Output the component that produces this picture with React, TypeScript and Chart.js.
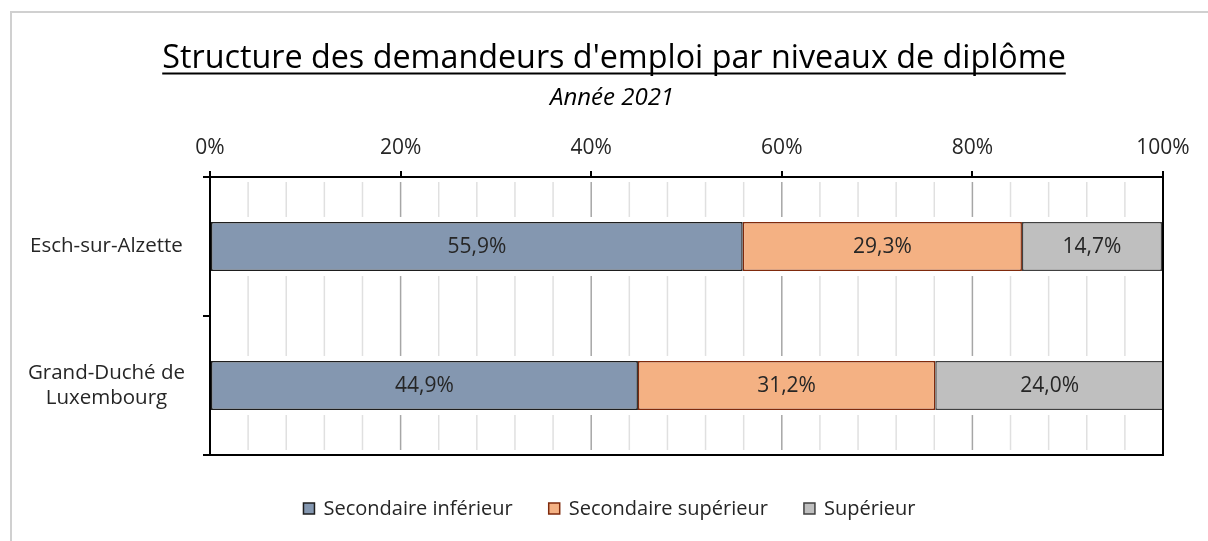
import React, { useEffect, useRef } from "react";
import { Chart, registerables } from "chart.js";

Chart.register(...registerables);

const TITLE = "Structure des demandeurs d'emploi par niveaux de diplôme";
const SUBTITLE = "Année 2021";
const categories: (string | string[])[] = ["Esch-sur-Alzette", ["Grand-Duché de", "Luxembourg"]];
const seriesNames = ["Secondaire inférieur", "Secondaire supérieur", "Supérieur"];
const secInferieur = [55.9, 44.9];
const secSuperieur = [29.3, 31.2];
const superieur = [14.7, 24.0];
const xTickValues = [0, 20, 40, 60, 80, 100];

const FONT = "'Open Sans'";
const fills = ["#8497b0", "#f4b183", "#bfbfbf"];
const borders = ["#1e1e1e", "#7f2a0c", "#404040"];

const fmt = (v: number) => v.toFixed(1).replace(".", ",") + "%";

const framePlugin = {
  id: "frame",
  beforeDraw(chart: any) {
    const { ctx, width, height } = chart;
    ctx.save();
    ctx.fillStyle = "#ffffff";
    ctx.fillRect(0, 0, width, height);
    ctx.strokeStyle = "#d0d0d0";
    ctx.lineWidth = 2;
    ctx.beginPath();
    ctx.moveTo(11, height);
    ctx.lineTo(11, 12);
    ctx.lineTo(width, 12);
    ctx.stroke();
    ctx.restore();
  },
};

const titlePlugin = {
  id: "titleU",
  afterDraw(chart: any) {
    const { ctx } = chart;
    ctx.save();
    ctx.fillStyle = "#000";
    ctx.font = `32.3px ${FONT}`;
    ctx.textAlign = "center";
    ctx.textBaseline = "alphabetic";
    const cx = 614;
    ctx.fillText(TITLE, cx, 68);
    const w = ctx.measureText(TITLE).width;
    ctx.strokeStyle = "#000";
    ctx.lineWidth = 1.8;
    ctx.beginPath();
    ctx.moveTo(cx - w / 2, 73.5);
    ctx.lineTo(cx + w / 2, 73.5);
    ctx.stroke();
    ctx.font = `italic 24px ${FONT}`;
    ctx.fillText(SUBTITLE, 612, 105);
    ctx.restore();
  },
};

// grid segments drawn between the bars, leaving small gaps like the original
const gridPlugin = {
  id: "gridSegments",
  beforeDatasetsDraw(chart: any) {
    const { ctx, chartArea, scales } = chart;
    const xs = scales.x;
    const meta = chart.getDatasetMeta(0);
    const gap = 5;
    const bounds: number[] = [chartArea.top];
    meta.data.forEach((bar: any) => {
      const h = bar.height;
      bounds.push(bar.y - h / 2, bar.y + h / 2);
    });
    bounds.push(chartArea.bottom);
    ctx.save();
    xs.ticks.forEach((t: any) => {
      const v = t.value;
      if (v <= 0 || v >= 100) return;
      const px = xs.getPixelForValue(v);
      ctx.strokeStyle = v % 20 === 0 ? "#a6a6a6" : "#e0e0e0";
      ctx.lineWidth = 1.5;
      for (let k = 0; k < bounds.length; k += 2) {
        ctx.beginPath();
        ctx.moveTo(px, bounds[k] + gap);
        ctx.lineTo(px, bounds[k + 1] - gap);
        ctx.stroke();
      }
    });
    ctx.restore();
  },
  afterDatasetsDraw(chart: any) {
    const { ctx, chartArea } = chart;
    ctx.save();
    ctx.strokeStyle = "#000";
    ctx.lineWidth = 2;
    ctx.beginPath();
    ctx.moveTo(chartArea.left, chartArea.bottom);
    ctx.lineTo(chartArea.right + 1, chartArea.bottom);
    ctx.moveTo(chartArea.right, chartArea.top);
    ctx.lineTo(chartArea.right, chartArea.bottom);
    ctx.stroke();
    ctx.restore();
  },
};

const dataLabelPlugin = {
  id: "dataLabels",
  afterDatasetsDraw(chart: any) {
    const { ctx } = chart;
    ctx.save();
    ctx.font = `21px ${FONT}`;
    ctx.fillStyle = "#262626";
    ctx.textAlign = "center";
    ctx.textBaseline = "middle";
    chart.data.datasets.forEach((ds: any, di: number) => {
      const meta = chart.getDatasetMeta(di);
      meta.data.forEach((bar: any, i: number) => {
        const v = ds.data[i];
        const cx = (bar.x + bar.base) / 2;
        ctx.fillText(fmt(v), cx, bar.y + 1);
      });
    });
    ctx.restore();
  },
};

const legendPlugin = {
  id: "customLegend",
  afterDraw(chart: any) {
    const { ctx } = chart;
    ctx.save();
    ctx.font = `20px ${FONT}`;
    ctx.textBaseline = "middle";
    ctx.textAlign = "left";
    const box = 11;
    const gapBox = 9;
    const gapItem = 36;
    const ds = chart.data.datasets;
    const widths = ds.map((d: any) => box + gapBox + ctx.measureText(d.label).width);
    const total = widths.reduce((a: number, b: number) => a + b, 0) + gapItem * (ds.length - 1);
    let x = 609.5 - total / 2;
    const cy = 508.5;
    ds.forEach((d: any, i: number) => {
      ctx.fillStyle = d.backgroundColor;
      ctx.fillRect(x, cy - box / 2, box, box);
      ctx.strokeStyle = d.borderColor;
      ctx.lineWidth = 1.5;
      ctx.strokeRect(x, cy - box / 2, box, box);
      ctx.fillStyle = "#262626";
      ctx.fillText(d.label, x + box + gapBox, cy + 1);
      x += widths[i] + gapItem;
    });
    ctx.restore();
  },
};

export default function App() {
  const ref = useRef<HTMLCanvasElement | null>(null);
  useEffect(() => {
    document.body.style.margin = "0";
    if (!ref.current) return;
    const seriesData = [secInferieur, secSuperieur, superieur];
    const chart = new Chart(ref.current, {
      type: "bar",
      data: {
        labels: categories,
        datasets: seriesNames.map((name, i) => ({
          label: name,
          data: seriesData[i],
          backgroundColor: fills[i],
          borderColor: borders[i],
          borderWidth: 1.5,
          borderSkipped: false,
          categoryPercentage: 1,
          barPercentage: 0.353,
        })),
      },
      options: {
        indexAxis: "y",
        responsive: false,
        animation: false,
        devicePixelRatio: 1,
        layout: { padding: { top: 127, left: 0, right: 45, bottom: 86 } },
        plugins: {
          legend: { display: false },
          title: { display: false },
          tooltip: { enabled: false },
        },
        scales: {
          x: {
            position: "top",
            stacked: true,
            min: 0,
            max: 100,
            afterFit(scale: any) {
              scale.height = 50;
            },
            ticks: {
              stepSize: 4,
              autoSkip: false,
              maxRotation: 0,
              padding: 10,
              color: "#262626",
              font: { family: FONT, size: 21 },
              callback: (v: any) => (xTickValues.includes(Number(v)) ? v + "%" : ""),
            },
            grid: {
              drawOnChartArea: false,
              tickLength: 6,
              lineWidth: 2,
              tickColor: (c: any) => {
                const v = c.tick ? c.tick.value : -1;
                return v % 20 === 0 ? "#000" : "rgba(0,0,0,0)";
              },
            },
            border: { display: true, color: "#000", width: 2 },
          },
          y: {
            stacked: true,
            afterFit(scale: any) {
              scale.width = 210;
            },
            ticks: {
              crossAlign: "center",
              padding: 18,
              color: "#262626",
              font: { family: FONT, size: 20.5 },
            },
            grid: {
              drawOnChartArea: false,
              tickLength: 7,
              color: "#000",
              lineWidth: 2,
              offset: true,
            },
            border: { display: true, color: "#000", width: 2 },
          },
        },
      },
      plugins: [framePlugin, titlePlugin, gridPlugin, dataLabelPlugin, legendPlugin],
    });
    return () => chart.destroy();
  }, []);
  return (
    <div style={{ width: 1208, height: 541 }}>
      <canvas ref={ref} width={1208} height={541} style={{ display: "block" }} />
    </div>
  );
}
